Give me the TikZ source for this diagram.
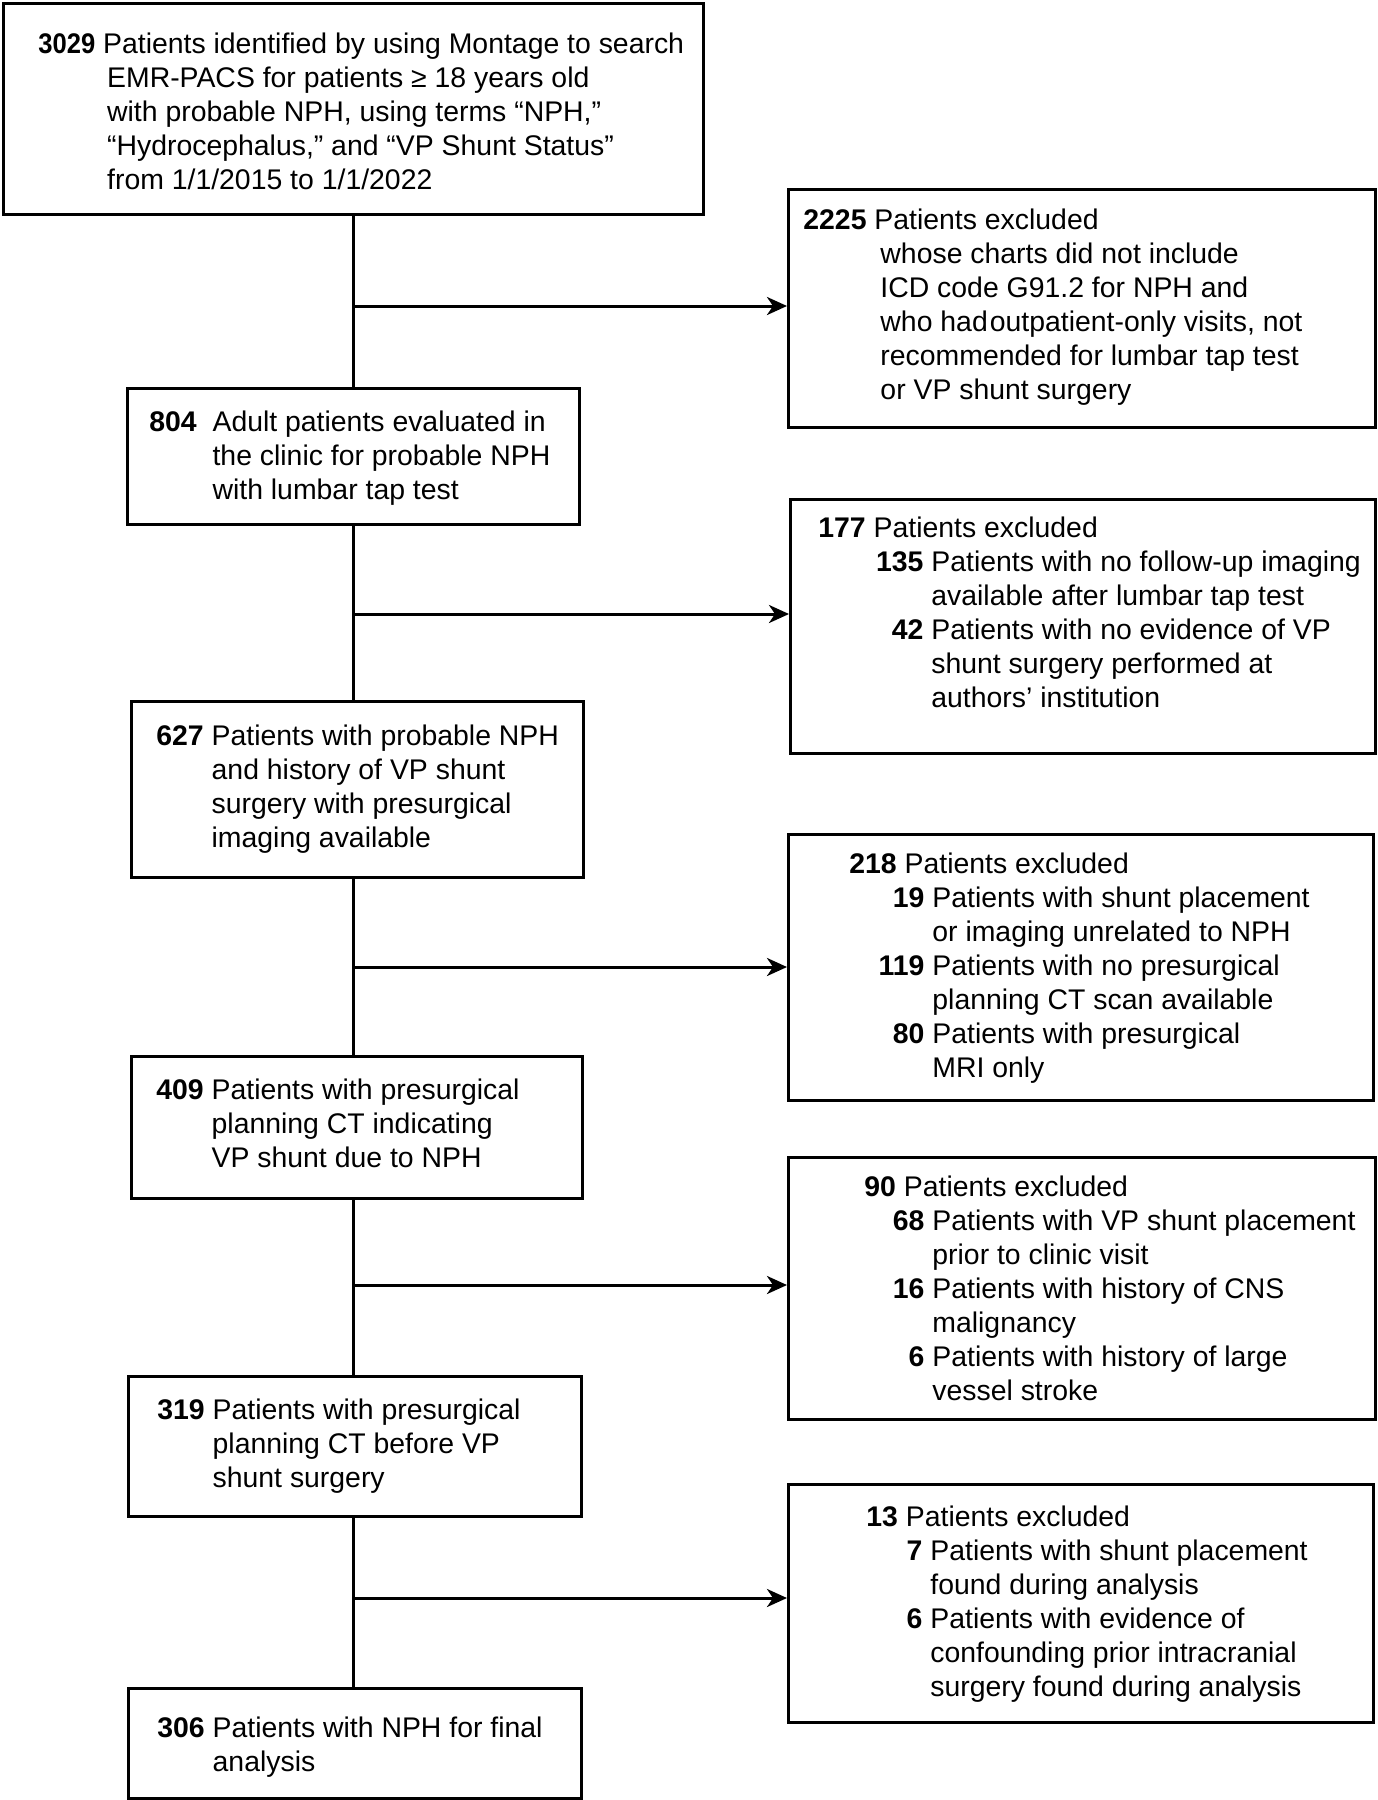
\documentclass[tikz,border=0pt]{standalone}
\usepackage{fontspec}
\setmainfont{Liberation Sans}
\usetikzlibrary{arrows.meta}
\newlength\tcol
\newcommand\subl[2]{\hspace{\tcol}\llap{\textbf{#1}\ }#2}
\newcommand\contl[1]{\hspace{\tcol}#1}
\begin{document}
\begin{tikzpicture}[x=0.5pt,y=-0.5pt,
  box/.style={draw, line width=1.6pt, inner sep=0pt, anchor=north west},
  txt/.style={inner sep=0pt, anchor=base west, font=\fontsize{14.2}{17}\selectfont},
  conn/.style={line width=1.5pt},
  arr/.style={line width=1.5pt, -{Stealth[length=10pt,width=9pt,inset=3pt]}}]
\useasboundingbox[fill=white] (0,0) rectangle (1377,1800);
% boxes
\node[box, minimum width=350pt, minimum height=105.5pt] (b1) at (2,2) {};
\node[box, minimum width=293.5pt, minimum height=119pt] (r1) at (787,188) {};
\node[box, minimum width=226pt, minimum height=68pt] (b2) at (126,387) {};
\node[box, minimum width=292.5pt, minimum height=127pt] (r2) at (789,498) {};
\node[box, minimum width=226pt, minimum height=88pt] (b3) at (130,700) {};
\node[box, minimum width=292.5pt, minimum height=133pt] (r3) at (787,833) {};
\node[box, minimum width=225.5pt, minimum height=71pt] (b4) at (130,1055) {};
\node[box, minimum width=293.5pt, minimum height=131pt] (r4) at (787,1156) {};
\node[box, minimum width=226.5pt, minimum height=70pt] (b5) at (127,1375) {};
\node[box, minimum width=292.5pt, minimum height=119pt] (r5) at (787,1483) {};
\node[box, minimum width=226.5pt, minimum height=55pt] (b6) at (127,1687) {};
% texts
\node[txt] (t1) at (38,53) {\begin{tabular}[t]{@{}l@{\ }l@{}}
\scalebox{0.9}[1]{\textbf{3029}} & Patients identified by using Montage to search\\
& \hspace{2pt}EMR-PACS for patients ≥ 18 years old\\
& \hspace{2pt}with probable NPH, using terms “NPH,”\\
& \hspace{2pt}“Hydrocephalus,” and “VP Shunt Status”\\
& \hspace{2pt}from 1/1/2015 to 1/1/2022\end{tabular}};
\node[txt] (s1) at (803,229.5) {\begin{tabular}[t]{@{}l@{\ }l@{}}
\textbf{2225} & Patients excluded\\
& \hspace{3pt}whose charts did not include\\
& \hspace{3pt}ICD code G91.2 for NPH and\\
& \hspace{3pt}who had\hspace{1pt}outpatient-only visits, not\\
& \hspace{3pt}recommended for lumbar tap test\\
& \hspace{3pt}or VP shunt surgery\end{tabular}};
\node[txt] (t2) at (149,431) {\begin{tabular}[t]{@{}l@{\ \ }l@{}}
\textbf{804} & Adult patients evaluated in\\
& the clinic for probable NPH\\
& with lumbar tap test\end{tabular}};
\node[txt] (s2) at (818,537) {\setlength\tcol{56.5pt}\begin{tabular}[t]{@{}l@{}}
\textbf{177} Patients excluded\\
\subl{135}{Patients with no follow-up imaging}\\
\contl{available after lumbar tap test}\\
\subl{42}{Patients with no evidence of VP}\\
\contl{shunt surgery performed at}\\
\contl{authors’ institution}\end{tabular}};
\node[txt] (t3) at (156,745) {\begin{tabular}[t]{@{}l@{\ }l@{}}
\textbf{627} & Patients with probable NPH\\
& and history of VP shunt\\
& surgery with presurgical\\
& imaging available\end{tabular}};
\node[txt] (s3) at (849,873) {\setlength\tcol{41.5pt}\begin{tabular}[t]{@{}l@{}}
\textbf{218} Patients excluded\\
\subl{19}{Patients with shunt placement}\\
\contl{or imaging unrelated to NPH}\\
\subl{119}{Patients with no presurgical}\\
\contl{planning CT scan available}\\
\subl{80}{Patients with presurgical}\\
\contl{MRI only}\end{tabular}};
\node[txt] (t4) at (156,1099) {\begin{tabular}[t]{@{}l@{\ }l@{}}
\textbf{409} & Patients with presurgical\\
& planning CT indicating\\
& VP shunt due to NPH\end{tabular}};
\node[txt] (s4) at (864,1196) {\setlength\tcol{34pt}\begin{tabular}[t]{@{}l@{}}
\textbf{90} Patients excluded\\
\subl{68}{Patients with VP shunt placement}\\
\contl{prior to clinic visit}\\
\subl{16}{Patients with history of CNS}\\
\contl{malignancy}\\
\subl{6}{Patients with history of large}\\
\contl{vessel stroke}\end{tabular}};
\node[txt] (t5) at (157,1419) {\begin{tabular}[t]{@{}l@{\ }l@{}}
\textbf{319} & Patients with presurgical\\
& planning CT before VP\\
& shunt surgery\end{tabular}};
\node[txt] (s5) at (866,1526) {\setlength\tcol{32pt}\begin{tabular}[t]{@{}l@{}}
\textbf{13} Patients excluded\\
\subl{7}{Patients with shunt placement}\\
\contl{found during analysis}\\
\subl{6}{Patients with evidence of}\\
\contl{confounding prior intracranial}\\
\contl{surgery found during analysis}\end{tabular}};
\node[txt] (t6) at (157,1737) {\begin{tabular}[t]{@{}l@{\ }l@{}}
\textbf{306} & Patients with NPH for final\\
& analysis\end{tabular}};
% trunk
\coordinate (tr) at (353,0);
\draw[conn] (b1.south -| tr) -- (b2.north -| tr);
\draw[conn] (b2.south -| tr) -- (b3.north -| tr);
\draw[conn] (b3.south -| tr) -- (b4.north -| tr);
\draw[conn] (b4.south -| tr) -- (b5.north -| tr);
\draw[conn] (b5.south -| tr) -- (b6.north -| tr);
% arrows
\coordinate (j1) at (353,306);
\coordinate (j2) at (353,614);
\coordinate (j3) at (353,967);
\coordinate (j4) at (353,1285);
\coordinate (j5) at (353,1598);
\draw[arr] (j1) -- (j1 -| r1.west);
\draw[arr] (j2) -- (j2 -| r2.west);
\draw[arr] (j3) -- (j3 -| r3.west);
\draw[arr] (j4) -- (j4 -| r4.west);
\draw[arr] (j5) -- (j5 -| r5.west);
\end{tikzpicture}
\end{document}
